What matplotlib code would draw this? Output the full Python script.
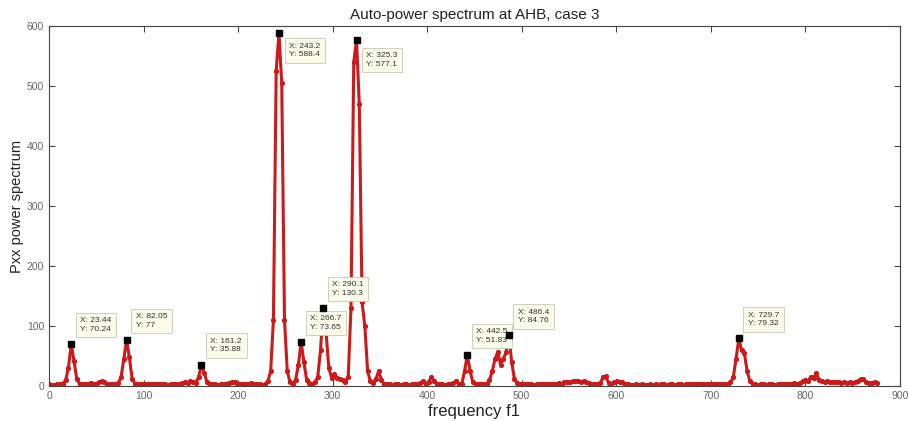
import numpy as np
import matplotlib
matplotlib.use("Agg")
import matplotlib.pyplot as plt

plt.rcParams['font.family'] = ['Liberation Sans', 'DejaVu Sans']

# frequency bin width of the spectrum
df = 2.9304

# auto-power values per bin
pxx = [
    3, 2, 2, 3, 3, 4, 10, 30, 70.24, 42,
    12, 4, 3, 3, 4, 5, 3, 4, 6, 8,
    7, 4, 3, 4, 3, 5, 15, 45, 77, 48,
    12, 4, 3, 3, 4, 3, 3, 4, 3, 3,
    4, 3, 3, 2, 3, 4, 3, 4, 5, 6,
    5, 8, 6, 5, 15, 35.88, 22, 7, 4, 3,
    3, 2, 3, 3, 4, 5, 7, 6, 4, 3,
    3, 4, 3, 5, 4, 3, 3, 2, 3, 8,
    25, 110, 525, 588.4, 505, 110, 25, 6, 4, 10,
    35, 73.65, 40, 10, 5, 4, 6, 15, 60, 130.3,
    90, 30, 14, 20, 14, 12, 10, 6, 15, 130,
    540, 577.1, 470, 140, 100, 25, 8, 5, 12, 25,
    10, 4, 3, 3, 2, 3, 3, 2, 3, 3,
    2, 3, 3, 3, 5, 8, 4, 6, 15, 9,
    4, 3, 3, 2, 3, 4, 5, 8, 4, 3,
    25, 51.83, 25, 6, 4, 3, 4, 3, 4, 10,
    25, 45, 57, 35, 45, 57, 84.76, 40, 12, 5,
    3, 4, 3, 3, 3, 2, 3, 3, 3, 4,
    3, 4, 4, 3, 5, 4, 6, 7, 6, 8,
    8, 9, 7, 8, 6, 5, 3, 3, 4, 5,
    15, 16, 5, 4, 6, 8, 7, 6, 4, 3,
    2, 2, 3, 2, 3, 2, 2, 3, 2, 3,
    2, 3, 3, 2, 3, 3, 2, 3, 3, 2,
    3, 3, 3, 4, 3, 4, 3, 3, 4, 3,
    4, 3, 4, 3, 3, 4, 6, 15, 45, 79.32,
    60, 55, 25, 8, 3, 3, 2, 3, 3, 2,
    3, 3, 2, 3, 3, 4, 3, 3, 4, 5,
    4, 5, 8, 10, 9, 15, 14, 21, 10, 8,
    7, 8, 7, 6, 7, 6, 5, 6, 5, 6,
    5, 6, 8, 12, 11, 6, 5, 5, 6, 5,
]

# bins that carry a data tip
tip_bins = [8, 28, 55, 83, 91, 99, 111, 151, 166, 249]

pxx = np.array(pxx, dtype=float)
freq = np.arange(len(pxx)) * df

fig = plt.figure(figsize=(9.08, 4.21), dpi=100)
ax = fig.add_axes([0.054, 0.083, 0.937, 0.855])

ax.plot(freq, pxx, color='#cc1a1a', lw=2.2, marker='.', ms=5.5)

#%% data tips
# offsets in points, box above (va bottom) or below (va top) the marker
offsets = {83: (7.5, -7, 'top'), 111: (7, -9, 'top')}
for k in tip_bins:
    x, y = freq[k], pxx[k]
    ax.plot(x, y, 's', color='black', ms=5, zorder=7)
    dx, dy, va = offsets.get(k, (6.5, 8, 'bottom'))
    ax.annotate('X: %.4g\nY: %.4g' % (x, y), (x, y),
                xytext=(dx, dy), textcoords='offset points',
                ha='left', va=va, fontsize=6, color='#333333',
                linespacing=1.3, zorder=6,
                bbox=dict(boxstyle='square,pad=0.55', fc='#fbfbea',
                          ec='#c8c8b8', lw=0.6))

ax.set_xlim(0, 900)
ax.set_ylim(0, 600)
ax.set_xticks(np.arange(0, 901, 100))
ax.set_yticks(np.arange(0, 601, 100))
ax.tick_params(direction='in', top=True, right=True, length=4,
               labelsize=7.5, labelcolor='#666666', color='#444444')
for s in ax.spines.values():
    s.set_color('#444444')
    s.set_linewidth(0.8)

ax.set_title('Auto-power spectrum at AHB, case 3', fontsize=11,
             color='#222222', pad=5)
ax.set_xlabel('frequency f1', fontsize=12, color='#222222', labelpad=2)
ax.set_ylabel('Pxx power spectrum', fontsize=10.5, color='#222222', labelpad=2)

fig.savefig('out.png', dpi=100)
